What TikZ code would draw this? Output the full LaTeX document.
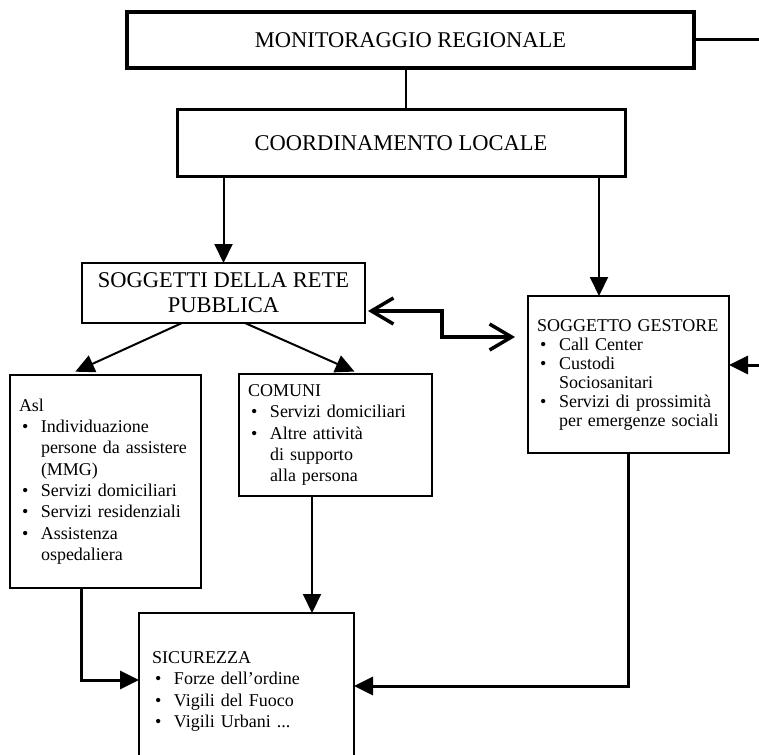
\documentclass[tikz,border=0pt]{standalone}
\usepackage{fontspec}
\setmainfont{Liberation Serif}
\usetikzlibrary{arrows.meta}

\newcommand{\voce}[1]{\makebox[22pt][l]{\hspace{3pt}\textbullet}#1}
\newcommand{\segue}{\hspace*{22pt}}

\begin{document}
\begin{tikzpicture}[x=1pt, y=-1pt, every node/.style={outer sep=0pt},
    titolo/.style={draw, line width=3pt, inner sep=0pt, align=center, font=\fontsize{22.5}{25}\selectfont},
    riquadro/.style={draw, line width=2pt, inner xsep=9pt, inner ysep=0pt, align=left, font=\fontsize{18}{21.3}\selectfont},
    freccia/.style={-{Triangle[length=19pt,width=18pt]}, line width=2pt},
    doppia/.style={{Straight Barb[length=22pt,width=26pt]}-{Straight Barb[length=22pt,width=26pt]}, line width=3.5pt}]
    \useasboundingbox (0,0) rectangle (759,754);
    \clip (0,0) rectangle (759,754);

    \node[titolo, line width=3.5pt, minimum width=567pt, minimum height=56pt] (mon) at (410.5,40) {MONITORAGGIO REGIONALE};
    \node[titolo, minimum width=448pt, minimum height=66pt] (coord) at (401,143) {COORDINAMENTO LOCALE};
    \node[titolo, line width=2pt, minimum width=283pt, minimum height=60pt] (sogg) at (223.5,293) {SOGGETTI DELLA RETE\\PUBBLICA};
    \node[riquadro, text width=173pt, minimum height=213pt] (asl) at (105.5,481.5)
        {Asl\\ \voce{Individuazione}\\ \segue persone da assistere\\ \segue (MMG)\\ \voce{Servizi domiciliari}\\ \voce{Servizi residenziali}\\ \voce{Assistenza}\\ \segue ospedaliera};
    \node[riquadro, text width=175pt, minimum height=122pt] (comuni) at (335.5,435)
        {COMUNI\\ \voce{Servizi domiciliari}\\ \voce{Altre attività}\\ \segue di supporto\\ \segue alla persona};
    \node[riquadro, font=\fontsize{18}{19}\selectfont, text width=183pt, minimum height=157pt] (gestore) at (628.5,374.5)
        {SOGGETTO GESTORE\\ \voce{Call Center}\\ \voce{Custodi}\\ \segue Sociosanitari\\ \voce{Servizi di prossimità}\\ \segue per emergenze sociali};
    \node[riquadro, inner xsep=13pt, text width=189pt, minimum height=157pt] (sic) at (246.5,691.5)
        {SICUREZZA\\ \voce{Forze dell’ordine}\\ \voce{Vigili del Fuoco}\\ \voce{Vigili Urbani ...}};

    \coordinate (mc) at (406,0);
    \coordinate (cg) at (599,0);
    \coordinate (dk) at (442,0);
    \coordinate (fine1) at (759,40);
    \coordinate (fine2) at (759,365);
    \coordinate (dl) at ([yshift=-18pt]sogg.east);
    \coordinate (dr) at ([yshift=37.5pt]gestore.west);
    \coordinate (cs) at ([xshift=-23.5pt]comuni.south);

    \draw[line width=1.2pt] (mc |- mon.south) -- (mc |- coord.north);
    \draw[line width=3pt] (mon.east) -- (fine1);
    \draw[freccia] (coord.south -| sogg.north) -- (sogg.north);
    \draw[freccia] (cg |- coord.south) -- (cg |- gestore.north);
    \draw[freccia, shorten >=8pt] ([xshift=-41.5pt]sogg.south) -- ([xshift=-37.5pt]asl.north);
    \draw[freccia, shorten >=6pt] ([xshift=21.5pt]sogg.south) -- ([xshift=24.5pt]comuni.north);
    \draw[doppia, shorten <=3pt, shorten >=13pt] (dl) -- (dl -| dk) -- (dk |- dr) -- (dr);
    \draw[freccia, line width=3pt] (fine2) -- (fine2 -| gestore.east);
    \draw[freccia, line width=3pt] (gestore.south) |- ([yshift=5.5pt]sic.east);
    \draw[freccia, line width=3pt] ([xshift=-24.5pt]asl.south) |- ([yshift=11.5pt]sic.west);
    \draw[freccia] (cs) -- (cs |- sic.north);
\end{tikzpicture}
\end{document}
